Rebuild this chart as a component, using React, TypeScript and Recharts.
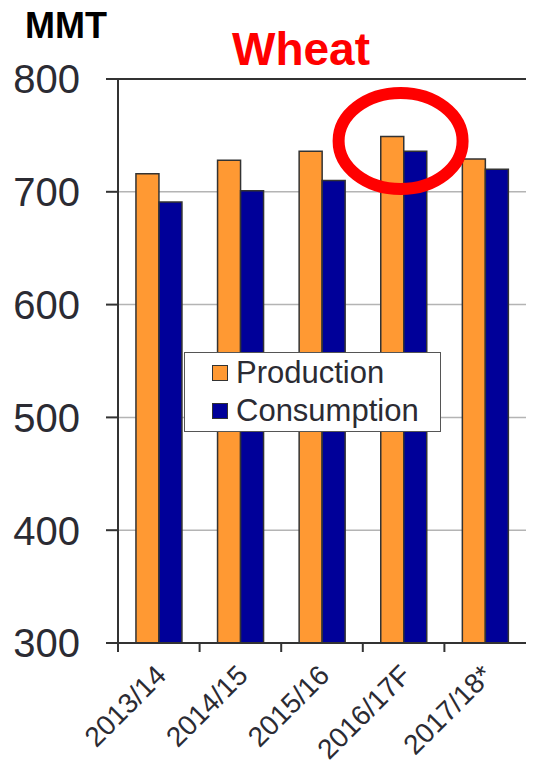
import React from 'react';
import {
  BarChart,
  Bar,
  XAxis,
  YAxis,
  CartesianGrid,
  ReferenceLine,
  ReferenceDot
} from 'recharts';

const seasons = ['2013/14', '2014/15', '2015/16', '2016/17F', '2017/18*'];
const production = [716, 728, 736, 749, 729];
const consumption = [691, 701, 710, 736, 720];
const yTicks = [300, 400, 500, 600, 700, 800];

const data = seasons.map((season, i) => ({
  season,
  production: production[i],
  consumption: consumption[i]
}));

const FONT = '"Liberation Sans", Arial, sans-serif';
const TEXT = '#2b2b33';
const CHART_W = 533;
const CHART_H = 767;
const PLOT_LEFT = 118;
const PLOT_RIGHT = 526;
const BAND = (PLOT_RIGHT - PLOT_LEFT) / seasons.length;

// y labels sit well left of the short tick marks
const YTick = ({ y, payload }: any) => (
  <text x={80} y={y} dy="0.36em" textAnchor="end" fontSize={40} fill={TEXT} fontFamily={FONT}>
    {payload.value}
  </text>
);

// tick marks fall on category boundaries, labels under the centres
const XTick = ({ x, y, payload }: any) => {
  const edge = x - BAND / 2;
  const lx = x + 9;
  const ly = y + 26;
  return (
    <g>
      <line x1={edge} y1={y - 8} x2={edge} y2={y + 1} stroke="#333" strokeWidth={2} />
      <text
        x={lx}
        y={ly}
        textAnchor="end"
        fontSize={28}
        fill={TEXT}
        fontFamily={FONT}
        transform={`rotate(-45, ${lx}, ${ly})`}
      >
        {payload.value}
      </text>
    </g>
  );
};

const legendItems = [
  { label: 'Production', color: '#FF9933' },
  { label: 'Consumption', color: '#000099' }
];

const Ring = ({ cx, cy }: any) => (
  <ellipse cx={cx - 3} cy={cy} rx={62} ry={48} fill="none" stroke="#FF0000" strokeWidth={12} />
);

export default function App() {
  return (
    <div style={{ position: 'absolute', left: 0, top: 0, width: CHART_W, height: CHART_H, background: '#fff' }}>
      <div
        style={{
          position: 'absolute',
          left: 25,
          top: 5,
          fontFamily: FONT,
          fontWeight: 'bold',
          fontSize: 36,
          color: '#000',
          zIndex: 2
        }}
      >
        MMT
      </div>
      <div
        style={{
          position: 'absolute',
          left: 0,
          width: 602,
          top: 22,
          textAlign: 'center',
          fontFamily: FONT,
          fontWeight: 'bold',
          fontSize: 46,
          color: '#FF0000',
          zIndex: 2
        }}
      >
        Wheat
      </div>
      <BarChart
        width={CHART_W}
        height={CHART_H}
        data={data}
        margin={{ top: 79, right: CHART_W - PLOT_RIGHT, left: 0, bottom: 0 }}
        barCategoryGap="22%"
        barGap={0}
      >
        <CartesianGrid vertical={false} stroke="#b4b4b4" strokeWidth={1.5} />
        <XAxis
          dataKey="season"
          height={124}
          tickLine={false}
          axisLine={{ stroke: '#333', strokeWidth: 2 }}
          tick={<XTick />}
          interval={0}
        />
        <YAxis
          width={PLOT_LEFT}
          domain={[300, 800]}
          ticks={yTicks}
          tickSize={12}
          tickLine={{ stroke: '#333', strokeWidth: 2 }}
          axisLine={{ stroke: '#333', strokeWidth: 2 }}
          tick={<YTick />}
          allowDataOverflow
        />
        <ReferenceLine y={800} stroke="#333" strokeWidth={2} />
        <Bar dataKey="production" name="Production" fill="#FF9933" stroke="#333" strokeWidth={1.5} isAnimationActive={false} />
        <Bar dataKey="consumption" name="Consumption" fill="#000099" stroke="#333" strokeWidth={1.5} isAnimationActive={false} />
        <ReferenceDot x="2016/17F" y={745} shape={<Ring />} />
      </BarChart>
      <div
        style={{
          position: 'absolute',
          left: 184,
          top: 352,
          width: 257,
          height: 80,
          background: '#fff',
          border: '1.5px solid #555',
          fontFamily: FONT,
          fontSize: 31,
          color: TEXT,
          boxSizing: 'border-box',
          paddingLeft: 27,
          paddingTop: 1
        }}
      >
        {legendItems.map((item) => (
          <div key={item.label} style={{ display: 'flex', alignItems: 'center', height: 38 }}>
            <span
              style={{
                display: 'inline-block',
                width: 14,
                height: 14,
                background: item.color,
                border: '1.5px solid #333',
                marginRight: 8
              }}
            />
            {item.label}
          </div>
        ))}
      </div>
    </div>
  );
}
